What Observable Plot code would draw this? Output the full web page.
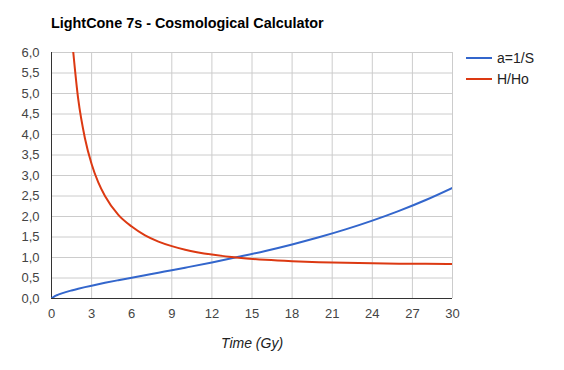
<!DOCTYPE html>
<html>
<head>
<meta charset="utf-8">
<script src="https://cdn.jsdelivr.net/npm/d3@7"></script>
<script src="https://cdn.jsdelivr.net/npm/@observablehq/plot@0.6"></script>
<style>
  html, body { margin: 0; padding: 0; background: #fff; }
  #wrap { position: relative; width: 564px; height: 370px; font-family: "Liberation Sans", Arial, sans-serif; }
  #title { position: absolute; left: 51px; top: 15px; font-size: 14.4px; font-weight: bold; color: #000; white-space: nowrap; }
  .leg { position: absolute; left: 466px; font-size: 14px; color: #222; white-space: nowrap; line-height: 16px; }
  .sw { display: inline-block; width: 26px; height: 2px; vertical-align: middle; margin-right: 5px; position: relative; top: -1px; }
</style>
</head>
<body>
<div id="wrap">
  <div id="chart"></div>
  <div id="title">LightCone 7s - Cosmological Calculator</div>
  <div class="leg" style="top:50px"><span class="sw" style="background:#3366cc"></span>a=1/S</div>
  <div class="leg" style="top:71px"><span class="sw" style="background:#dc3912"></span>H/Ho</div>
</div>
<script>
// Time (Gy) and scale factor a = 1/S
const timeA = [0, 0.25, 0.5, 1, 1.5, 2, 2.5, 3, 3.5, 4, 5, 6, 7, 8, 9, 10, 12, 14, 16, 18, 20, 22, 24, 26, 28, 30];
const scaleFactor = [0, 0.059, 0.094, 0.150, 0.196, 0.238, 0.277, 0.313, 0.348, 0.382, 0.446, 0.508, 0.569, 0.630, 0.690, 0.752, 0.879, 1.016, 1.159, 1.318, 1.492, 1.685, 1.899, 2.137, 2.403, 2.70];
// Time (Gy) and Hubble ratio H/Ho
const timeH = [1.5, 2, 2.5, 3, 3.5, 4, 5, 6, 7, 8, 9, 10, 12, 14, 16, 18, 20, 22, 24, 26, 28, 30];
const hubbleRatio = [6.45, 4.86, 3.91, 3.28, 2.83, 2.50, 2.04, 1.755, 1.539, 1.388, 1.277, 1.191, 1.071, 0.993, 0.943, 0.909, 0.886, 0.869, 0.858, 0.850, 0.845, 0.841];

const xTicks = [0, 3, 6, 9, 12, 15, 18, 21, 24, 27, 30];
const yTicks = [0, 0.5, 1, 1.5, 2, 2.5, 3, 3.5, 4, 4.5, 5, 5.5, 6];
const seriesNames = ["a=1/S", "H/Ho"];
const seriesColors = ["#3366cc", "#dc3912"];

const dataA = timeA.map((t, i) => ({t, v: scaleFactor[i], s: seriesNames[0]}));
const dataH = timeH.map((t, i) => ({t, v: hubbleRatio[i], s: seriesNames[1]}));

const fmt = d => d.toFixed(1).replace(".", ",");

const chart = Plot.plot({
  width: 564,
  height: 370,
  marginLeft: 51,
  marginRight: 112,
  marginTop: 52,
  marginBottom: 72,
  style: {fontFamily: "'Liberation Sans', Arial, sans-serif", fontSize: "13px", color: "#444", background: "#fff"},
  x: {domain: [0, 30]},
  y: {domain: [0, 6]},
  color: {domain: seriesNames, range: seriesColors},
  marks: [
    Plot.gridX(xTicks, {stroke: "#cccccc", strokeOpacity: 1}),
    Plot.gridY(yTicks, {stroke: "#cccccc", strokeOpacity: 1}),
    Plot.ruleX([0], {stroke: "#333"}),
    Plot.ruleY([0], {stroke: "#333"}),
    Plot.line(dataA, {x: "t", y: "v", stroke: "s", strokeWidth: 2, curve: "monotone-x", clip: true}),
    Plot.line(dataH, {x: "t", y: "v", stroke: "s", strokeWidth: 2, curve: "monotone-x", clip: true}),
    Plot.axisX({ticks: xTicks, tickSize: 0, tickPadding: 10, label: null, tickFormat: d => String(d)}),
    Plot.axisY({ticks: yTicks, tickSize: 0, tickPadding: 12, label: null, tickFormat: fmt}),
    Plot.text(["Time (Gy)"], {frameAnchor: "bottom", dy: 49, text: d => d, fontStyle: "italic", fontSize: 14, fill: "#222"})
  ]
});
document.getElementById("chart").appendChild(chart);
</script>
</body>
</html>
